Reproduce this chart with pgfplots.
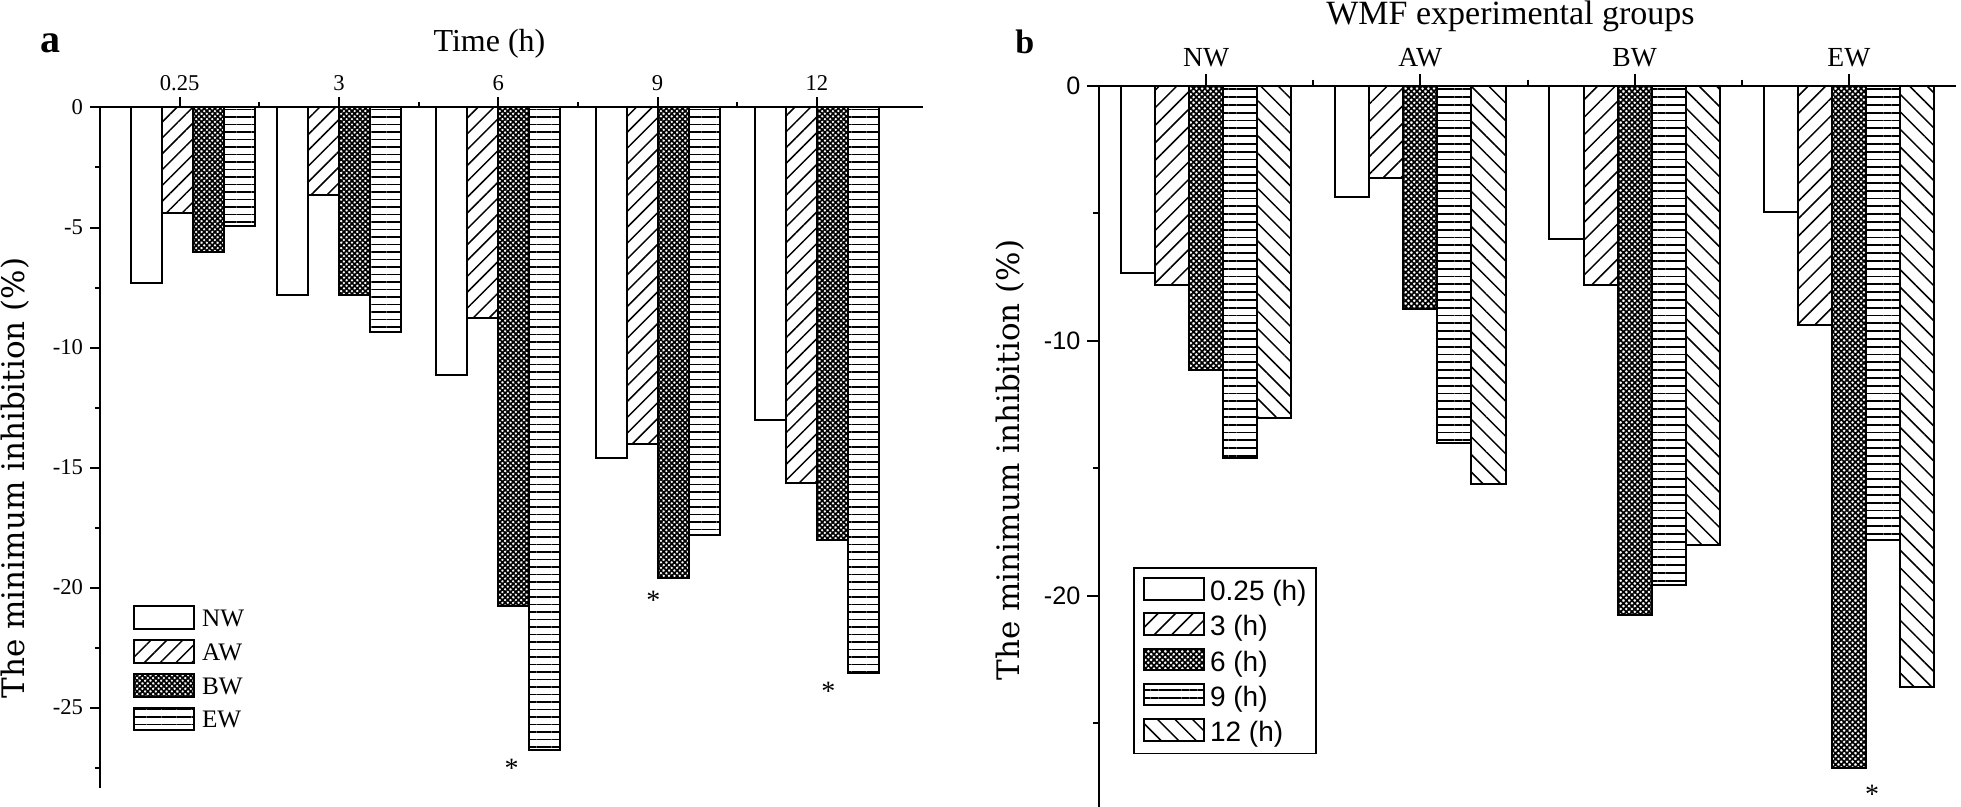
\documentclass[border=0pt]{standalone}
\usepackage{fontspec}
\setmainfont{Liberation Serif}
\setsansfont{Liberation Sans}
\newfontfamily\dvserif{DejaVu Serif}
\usepackage{pgfplots}
\pgfplotsset{compat=1.18}
\usetikzlibrary{patterns.meta}
\tikzset{
 pNW/.style={fill=white},
 pAW/.style={pattern={Lines[angle=45,distance=5.6pt,line width=0.75pt]}},
 pBW/.style={pattern={Hatch[angle=45,distance=1.9pt,line width=0.85pt]}},
 pEW/.style={pattern={Lines[angle=0,distance=3.75pt,line width=0.85pt]}},
 rNW/.style={fill=white},
 rAW/.style={pattern={Lines[angle=45,distance=6.2pt,line width=0.75pt]}},
 rBW/.style={pattern={Hatch[angle=45,distance=2pt,line width=0.85pt]}},
 rEW/.style={pattern={Lines[angle=0,distance=3.9pt,line width=0.9pt]}},
 r12/.style={pattern={Lines[angle=-45,distance=6.2pt,line width=0.75pt]}},
}
\begin{document}
\begin{tikzpicture}
\useasboundingbox (0,0) rectangle (980.5pt,403.5pt);
% ---------------- panel a ----------------
\begin{axis}[
  at={(50pt,9.5pt)}, anchor=south west,
  width=411.5pt, height=340.25pt, scale only axis,
  xmin=-1.5, xmax=14, ymin=-28.35, ymax=0,
  axis x line=top, axis y line=left,
  axis line style={-, line width=1pt},
  every tick/.style={black, line width=1pt},
  tick align=outside,
  major tick length=5pt, minor tick length=2.5pt,
  xtick={0,3,6,9,12}, xticklabels={0.25,3,6,9,12},
  minor xtick={1.5,4.5,7.5,10.5},
  ytick={0,-5,-10,-15,-20,-25}, yticklabels={0,-5,-10,-15,-20,-25},
  minor ytick={-2.5,-7.5,-12.5,-17.5,-22.5,-27.5},
  xticklabel style={font=\fontsize{11.3}{13}\selectfont},
  yticklabel style={font=\fontsize{11.3}{13}\selectfont},
  ybar, clip=false,
  legend image code/.code={\draw[#1, line width=1pt] (0pt,-4.65pt) rectangle (30pt,6.65pt);},
  legend style={at={(0.0397,0.2689)}, anchor=north west, draw=none, fill=none,
    inner sep=0pt, row sep=4.6pt, font=\fontsize{12.6}{14}\selectfont,
    nodes={inner sep=0pt},
    /tikz/every odd column/.append style={column sep=3.5pt}},
  legend cell align=left,
]
\addplot[draw=black, line width=1pt, pNW, bar width=0.584, bar shift=-0.876]
  coordinates {(0.25,-7.33) (3,-7.81) (6,-11.15) (9,-14.61) (12,-13.03)};
\addplot[draw=black, line width=1pt, pAW, bar width=0.584, bar shift=-0.292]
  coordinates {(0.25,-4.38) (3,-3.64) (6,-8.75) (9,-14.03) (12,-15.63)};
\addplot[draw=black, line width=1pt, pBW, bar width=0.584, bar shift=0.292]
  coordinates {(0.25,-6.00) (3,-7.80) (6,-20.75) (9,-19.60) (12,-18.00)};
\addplot[draw=black, line width=1pt, pEW, bar width=0.584, bar shift=0.876]
  coordinates {(0.25,-4.95) (3,-9.37) (6,-26.77) (9,-17.83) (12,-23.58)};
\legend{NW,AW,BW,EW}
\node[anchor=north, inner sep=0pt, font=\fontsize{14}{16}\selectfont] at (axis cs:6.25,-27.12) {*};
\node[anchor=north, inner sep=0pt, font=\fontsize{14}{16}\selectfont] at (axis cs:8.92,-20.13) {*};
\node[anchor=north, inner sep=0pt, font=\fontsize{14}{16}\selectfont] at (axis cs:12.22,-23.92) {*};
\end{axis}
% ---------------- panel b ----------------
\begin{axis}[
  at={(549.5pt,0pt)}, anchor=south west,
  width=428.5pt, height=360.65pt, scale only axis,
  xmin=-0.5, xmax=3.5, ymin=-28.29, ymax=0,
  axis x line=top, axis y line=left,
  axis line style={-, line width=1pt},
  every tick/.style={black, line width=1pt},
  tick align=outside,
  major tick length=5.8pt, minor tick length=3pt,
  xtick={0,1,2,3}, xticklabels={NW,AW,BW,EW},
  minor xtick={0.5,1.5,2.5},
  ytick={0,-10,-20}, yticklabels={0,-10,-20},
  minor ytick={-5,-15,-25},
  xticklabel style={font=\fontsize{13.8}{16}\selectfont},
  yticklabel style={font=\sffamily\fontsize{12.6}{15}\selectfont},
  ybar, clip=false,
  legend image code/.code={\draw[#1, line width=1pt] (0pt,-3.92pt) rectangle (30pt,6.94pt);},
  legend style={at={(0.04,0.3323)}, anchor=north west, draw=black, line width=0.8pt, fill=white,
    inner xsep=4.7pt, inner ysep=4.5pt, row sep=4.35pt, font=\sffamily\fontsize{14}{16}\selectfont,
    nodes={inner sep=0pt},
    /tikz/every odd column/.append style={column sep=2.3pt}},
  legend cell align=left,
]
\addplot[draw=black, line width=1pt, rNW, bar width=0.159, bar shift=-0.318]
  coordinates {(0,-7.33) (1,-4.38) (2,-6.00) (3,-4.95)};
\addplot[draw=black, line width=1pt, rAW, bar width=0.159, bar shift=-0.159]
  coordinates {(0,-7.81) (1,-3.64) (2,-7.80) (3,-9.37)};
\addplot[draw=black, line width=1pt, rBW, bar width=0.159, bar shift=0]
  coordinates {(0,-11.15) (1,-8.75) (2,-20.75) (3,-26.77)};
\addplot[draw=black, line width=1pt, rEW, bar width=0.159, bar shift=0.159]
  coordinates {(0,-14.61) (1,-14.03) (2,-19.60) (3,-17.83)};
\addplot[draw=black, line width=1pt, r12, bar width=0.159, bar shift=0.318]
  coordinates {(0,-13.03) (1,-15.63) (2,-18.00) (3,-23.58)};
\legend{0.25 (h),3 (h),6 (h),9 (h),12 (h)}
\node[anchor=north, inner sep=0pt, font=\fontsize{14}{16}\selectfont] at (axis cs:3.109,-27.42) {*};
\end{axis}
% ---------------- titles and labels ----------------
\node[anchor=base west, inner sep=0pt, font=\bfseries\fontsize{20}{24}\selectfont] at (20pt,377.15pt) {a};
\node[anchor=base west, inner sep=0pt, font=\bfseries\fontsize{17}{20}\selectfont] at (507.5pt,376.85pt) {b};
\node[anchor=base, inner sep=0pt, font=\fontsize{16}{19}\selectfont] at (244.75pt,377.65pt) {Time (h)};
\node[anchor=base, inner sep=0pt, font=\fontsize{17}{20}\selectfont] at (755.25pt,391pt) {WMF experimental groups};
\node[rotate=90, inner sep=0pt, font=\dvserif\fontsize{15.5}{18}\selectfont] at (7.5pt,164.5pt) {The minimum inhibition (\%)};
\node[rotate=90, inner sep=0pt, font=\dvserif\fontsize{15.5}{18}\selectfont] at (505pt,173.5pt) {The minimum inhibition (\%)};
\end{tikzpicture}
\end{document}
